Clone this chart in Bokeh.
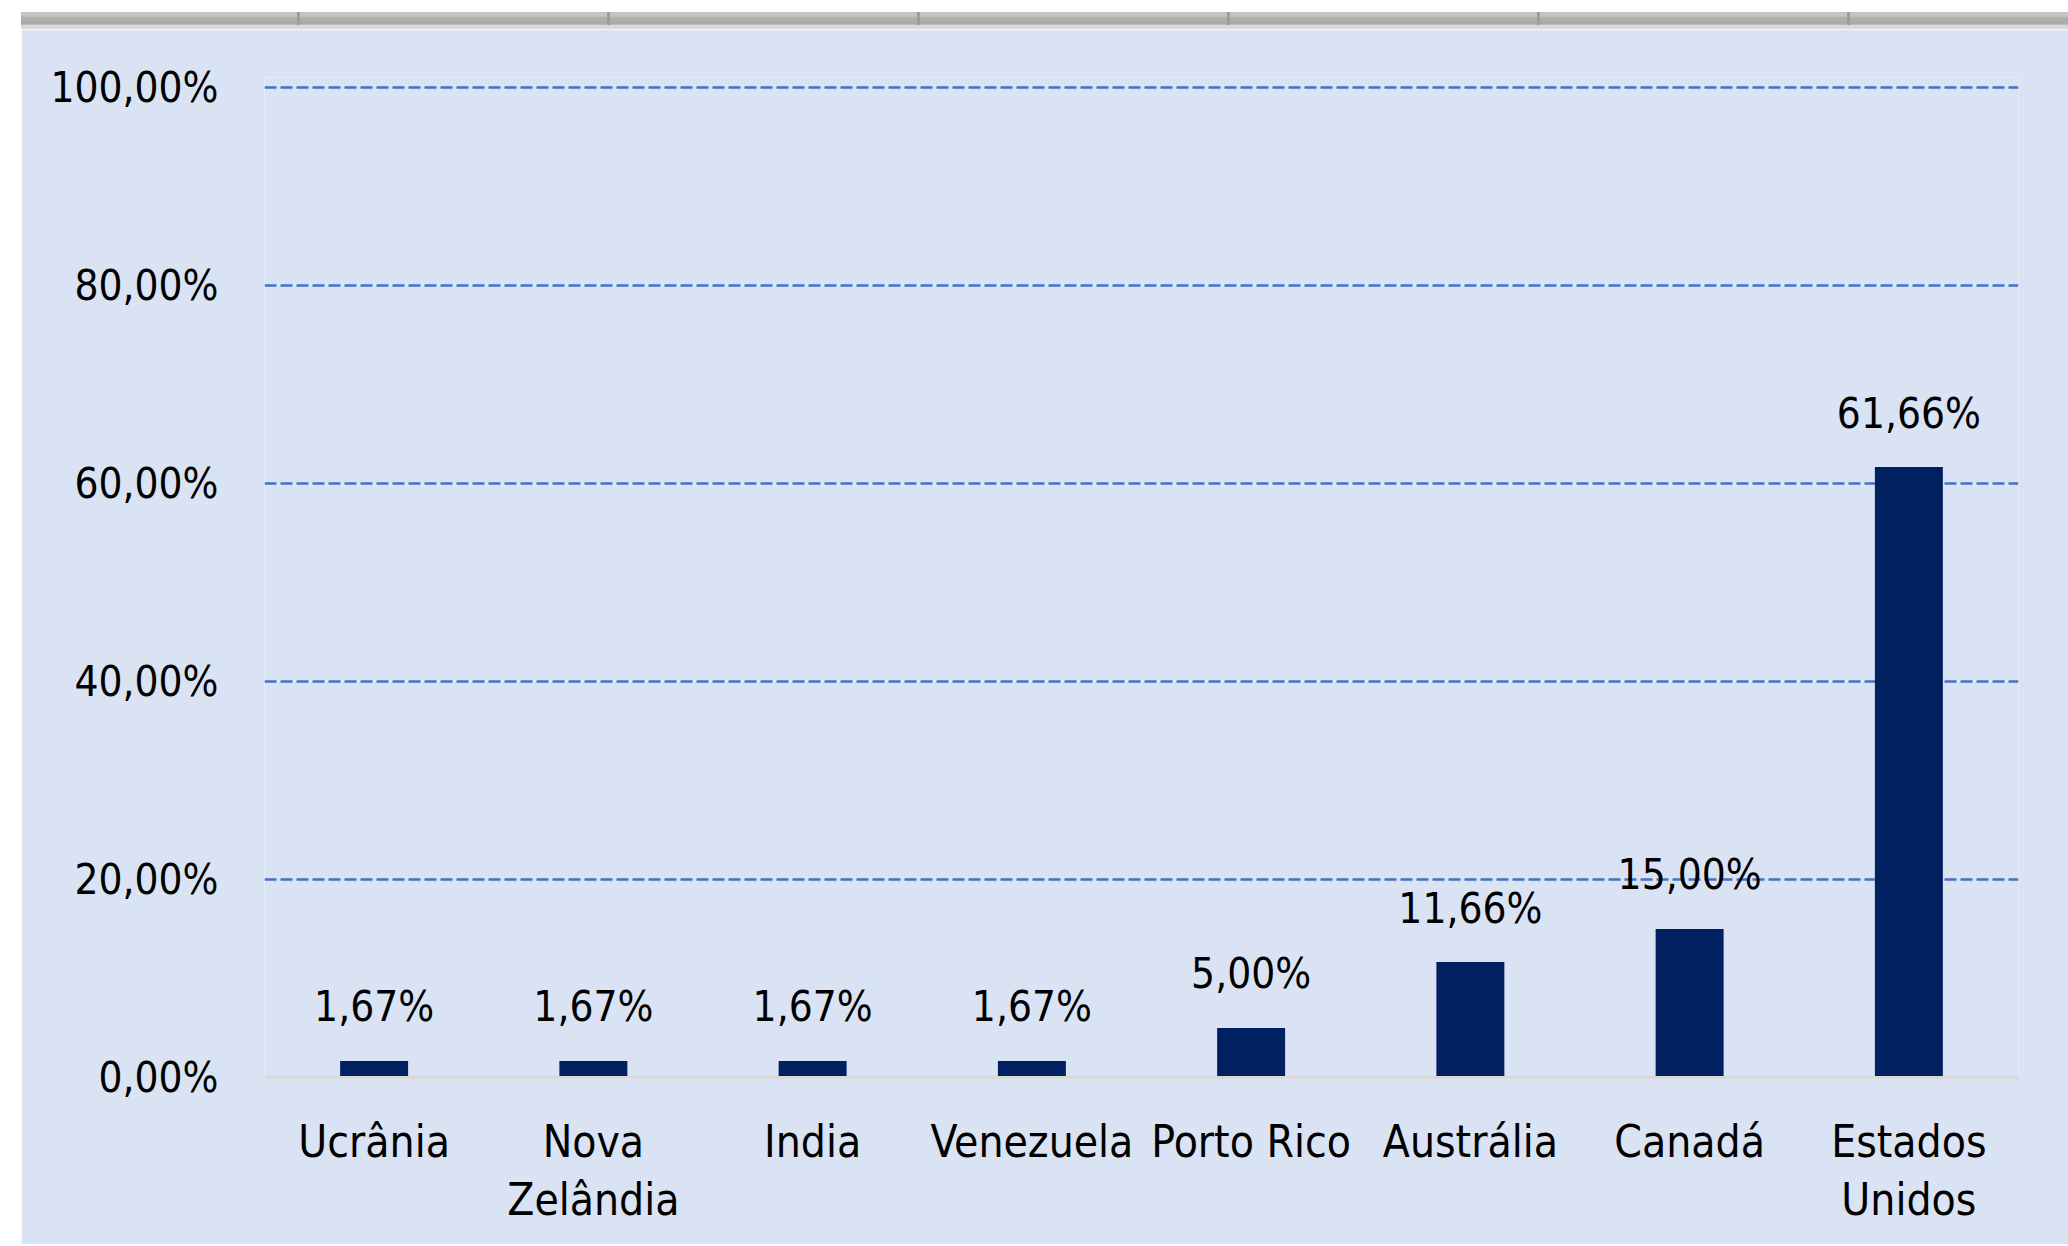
from bokeh.plotting import figure
from bokeh.models import (FactorRange, Range1d, FixedTicker, CustomJSTickFormatter,
                          ColumnDataSource, Div, Spacer)
from bokeh.layouts import row, column
from bokeh.core.properties import value
from bokeh.embed import file_html
from bokeh.resources import INLINE

# ---- data ----
categories = ["Ucrânia", "Nova\nZelândia", "India", "Venezuela", "Porto Rico",
              "Austrália", "Canadá", "Estados\nUnidos"]
values = [1.67, 1.67, 1.67, 1.67, 5.00, 11.66, 15.00, 61.66]
y_ticks = [0, 20, 40, 60, 80, 100]
grid_ticks = [20, 40, 60, 80, 100]

labels = [f"{v:.2f}".replace(".", ",") + "%" for v in values]

FONT = "DejaVu Sans Condensed"
FS_NUM = "42px"
FS_CAT = "44px"
BG = "#DAE3F3"
TXT = "#000000"

src = ColumnDataSource(dict(cat=categories, val=values, lbl=labels))

W, H = 2047, 1215
p = figure(x_range=FactorRange(factors=categories, range_padding=0),
           y_range=Range1d(0, 101),
           width=W, height=H,
           output_backend="svg", toolbar_location=None,
           min_border_left=243, min_border_right=50,
           min_border_top=48, min_border_bottom=167)

p.background_fill_color = BG
p.border_fill_color = BG
p.outline_line_color = None

p.vbar(x="cat", top="val", width=0.31, bottom=0, source=src,
       fill_color="#002060", line_color=None)

p.text(x="cat", y="val", text="lbl", source=src, y_offset=-54,
       text_align="center", text_baseline="alphabetic",
       text_font=value(FONT), text_font_size=FS_NUM, text_color=TXT)

# grid
p.xgrid.grid_line_color = None
p.ygrid.ticker = FixedTicker(ticks=grid_ticks)
p.ygrid.grid_line_color = "#4472C4"
p.ygrid.grid_line_dash = "12 4"
p.ygrid.grid_line_width = 2.5

# y axis
p.yaxis.ticker = FixedTicker(ticks=y_ticks)
p.yaxis.formatter = CustomJSTickFormatter(
    code="return tick.toFixed(2).replace('.', ',') + '%';")
p.yaxis.axis_line_color = None
p.yaxis.major_tick_line_color = None
p.yaxis.minor_tick_line_color = None
p.yaxis.major_label_standoff = 40
p.yaxis.major_label_text_font = FONT
p.yaxis.major_label_text_font_size = FS_NUM
p.yaxis.major_label_text_color = TXT

# x axis
p.xaxis.axis_line_color = "#D9D9D9"
p.xaxis.axis_line_width = 3
p.xaxis.major_tick_line_color = None
p.xaxis.minor_tick_line_color = None
p.xaxis.major_label_standoff = 32
p.xaxis.major_label_text_font = FONT
p.xaxis.major_label_text_font_size = FS_CAT
p.xaxis.major_label_text_color = TXT
p.xaxis.major_label_text_line_height = 1.15

# top gray band (spreadsheet header look)
seps = "".join(
    f'<div style="position:absolute;left:{x}px;top:0;width:3px;height:13px;background:#9c9c9c"></div>'
    for x in [276, 586, 896, 1206, 1516, 1826])
band = Div(text=f'<div style="position:relative;width:{W}px;height:17px;">{seps}</div>',
           width=W, height=17,
           styles={"background": "linear-gradient(#c4c4c4 0%, #c4c4c4 25%, #b0b0b0 30%, #a8a8a8 72%, #d9d9d9 76%, #d9d9d9 100%)",
                   "margin": "0", "padding": "0"})

layout = row(Spacer(width=21, height=H + 29),
             column(Spacer(width=W, height=12), band, p))

open("out.html", "w").write(file_html(layout, INLINE))
